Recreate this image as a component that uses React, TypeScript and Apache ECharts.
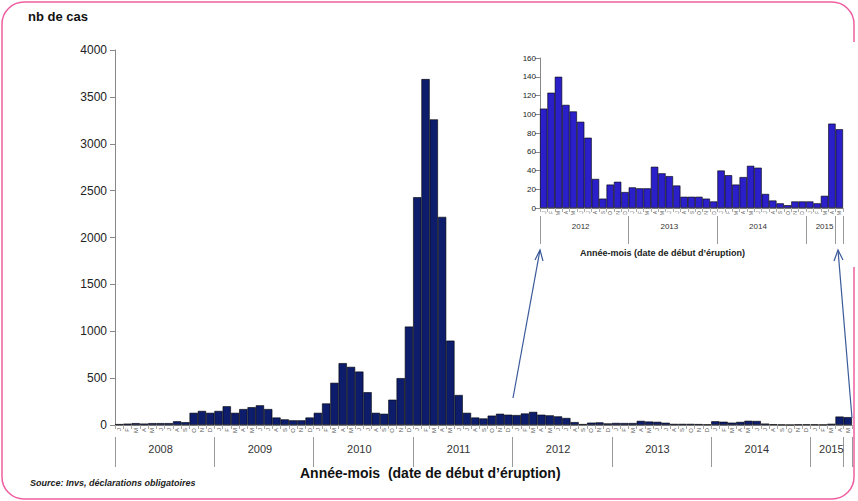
import React, { useEffect, useRef } from 'react';
import * as echarts from 'echarts';

const years = ['2008', '2009', '2010', '2011', '2012', '2013', '2014', '2015'];
const monthLetters = ['J', 'F', 'M', 'A', 'M', 'J', 'J', 'A', 'S', 'O', 'N', 'D'];

const cases2008 = [10, 15, 20, 15, 20, 20, 20, 40, 30, 130, 150, 130];
const cases2009 = [150, 200, 130, 170, 190, 210, 170, 80, 60, 50, 50, 80];
const cases2010 = [130, 230, 450, 660, 620, 570, 350, 130, 120, 270, 500, 1050];
const cases2011 = [2430, 3690, 3260, 2220, 900, 320, 130, 80, 70, 100, 120, 110];
const cases2012 = [106, 123, 140, 110, 103, 92, 75, 31, 10, 25, 28, 17];
const cases2013 = [22, 21, 21, 44, 37, 34, 24, 12, 12, 12, 10, 7];
const cases2014 = [40, 35, 25, 33, 45, 43, 15, 8, 5, 3, 7, 7];
const cases2015 = [7, 5, 13, 90, 84];

const allCases = [...cases2008, ...cases2009, ...cases2010, ...cases2011, ...cases2012, ...cases2013, ...cases2014, ...cases2015];
const insetCases = [...cases2012, ...cases2013, ...cases2014, ...cases2015];

const monthsFor = (n: number) => Array.from({ length: n }, (_, i) => monthLetters[i % 12]);
const yearCats = (ys: string[], n: number) => Array.from({ length: n }, (_, i) => ys[Math.floor(i / 12)]);

const font = 'Arial, "Liberation Sans", sans-serif';

export default function App() {
  const ref = useRef<HTMLDivElement>(null);
  useEffect(() => {
    if (!ref.current) return;
    const chart = echarts.init(ref.current, null, { renderer: 'svg' });
    const nMain = allCases.length;
    const nIn = insetCases.length;
    const monthAxis = (gridIndex: number, n: number, size: number) => ({
      type: 'category', gridIndex, data: monthsFor(n), position: 'bottom',
      axisLine: { lineStyle: { color: '#888' } },
      axisTick: { show: true, interval: 0, length: 4, lineStyle: { color: '#aaa' } },
      axisLabel: { interval: 0, rotate: 90, fontSize: size, color: '#555', margin: 3, fontFamily: font },
    });
    const yearAxis = (gridIndex: number, n: number, ys: string[], off: number, size: number, tick: number) => ({
      type: 'category', gridIndex, data: yearCats(ys, n), position: 'bottom', offset: off,
      axisLine: { show: false },
      axisTick: { show: true, alignWithLabel: false, length: tick, interval: (i: number) => i % 12 === 0 || i === n - 1, lineStyle: { color: '#999' } },
      axisLabel: { interval: (i: number) => i % 12 === 5 || (i === n - 3 && n % 12 !== 0), fontSize: size, color: '#333', fontFamily: font, margin: 6 },
    });
    chart.setOption({
      animation: false,
      graphic: [
        { type: 'rect', shape: { x: 2, y: 2, width: 852, height: 497, r: 22 }, style: { fill: 'none', stroke: '#ef5fa0', lineWidth: 1.5 } },
        { type: 'text', left: 28, top: 10, style: { text: 'nb de cas', font: `bold 13px ${font}`, fill: '#111' } },
        { type: 'text', left: 30, top: 478, style: { text: 'Source: Invs, déclarations obligatoires', font: `italic bold 9px ${font}`, fill: '#222' } },
        { type: 'text', left: 300, top: 466, style: { text: 'Année-mois  (date de début d\u2019éruption)', font: `bold 14px ${font}`, fill: '#111' } },
        { type: 'rect', z: 5, shape: { x: 510, y: 42, width: 345, height: 225 }, style: { fill: '#fff' } },
        { type: 'text', z: 10, left: 580, top: 248, style: { text: 'Année-mois (date de début d\u2019éruption)', font: `bold 9px ${font}`, fill: '#222' } },
        { type: 'line', z: 10, shape: { x1: 513, y1: 398, x2: 540, y2: 250 }, style: { stroke: '#3b5a9a', lineWidth: 1.2 } },
        { type: 'polyline', z: 10, shape: { points: [[535, 260], [540, 250], [543, 261]] }, style: { stroke: '#3b5a9a', fill: 'none', lineWidth: 1.2 } },
        { type: 'line', z: 10, shape: { x1: 852, y1: 418, x2: 838, y2: 250 }, style: { stroke: '#3b5a9a', lineWidth: 1.2 } },
        { type: 'polyline', z: 10, shape: { points: [[834, 261], [838, 250], [843, 260]] }, style: { stroke: '#3b5a9a', fill: 'none', lineWidth: 1.2 } },
      ],
      grid: [
        { left: 115, right: 6, top: 50, bottom: 76 },
        { left: 540, right: 15, top: 58, bottom: 293, z: 20 },
      ],
      xAxis: [
        monthAxis(0, nMain, 6),
        yearAxis(0, nMain, years, 12, 11, 30),
        { ...monthAxis(1, nIn, 5), z: 20 },
        { ...yearAxis(1, nIn, years.slice(4), 8, 8, 28), z: 20 },
      ],
      yAxis: [
        { type: 'value', gridIndex: 0, min: 0, max: 4000, interval: 500, splitLine: { show: false },
          axisLine: { show: true, lineStyle: { color: '#888' } }, axisTick: { show: true, lineStyle: { color: '#888' } },
          axisLabel: { fontSize: 12, color: '#222', fontFamily: font, formatter: (v: number) => String(v) } },
        { type: 'value', gridIndex: 1, min: 0, max: 160, interval: 20, splitLine: { show: false }, z: 20,
          axisLine: { show: true, lineStyle: { color: '#888' } }, axisTick: { show: true, lineStyle: { color: '#888' } },
          axisLabel: { fontSize: 8, color: '#222', fontFamily: font, margin: 4 } },
      ],
      series: [
        { type: 'bar', xAxisIndex: 0, yAxisIndex: 0, data: allCases, barCategoryGap: 0,
          itemStyle: { color: '#0d1d6b', borderColor: '#000', borderWidth: 0.6 } },
        { type: 'bar', xAxisIndex: 2, yAxisIndex: 1, data: insetCases, barCategoryGap: 0, z: 20,
          itemStyle: { color: '#2a1fc8', borderColor: '#000', borderWidth: 0.6 } },
      ],
    });
    return () => chart.dispose();
  }, []);
  return <div ref={ref} style={{ width: 858, height: 501, position: 'absolute', left: 0, top: 0, background: '#fff' }} />;
}
